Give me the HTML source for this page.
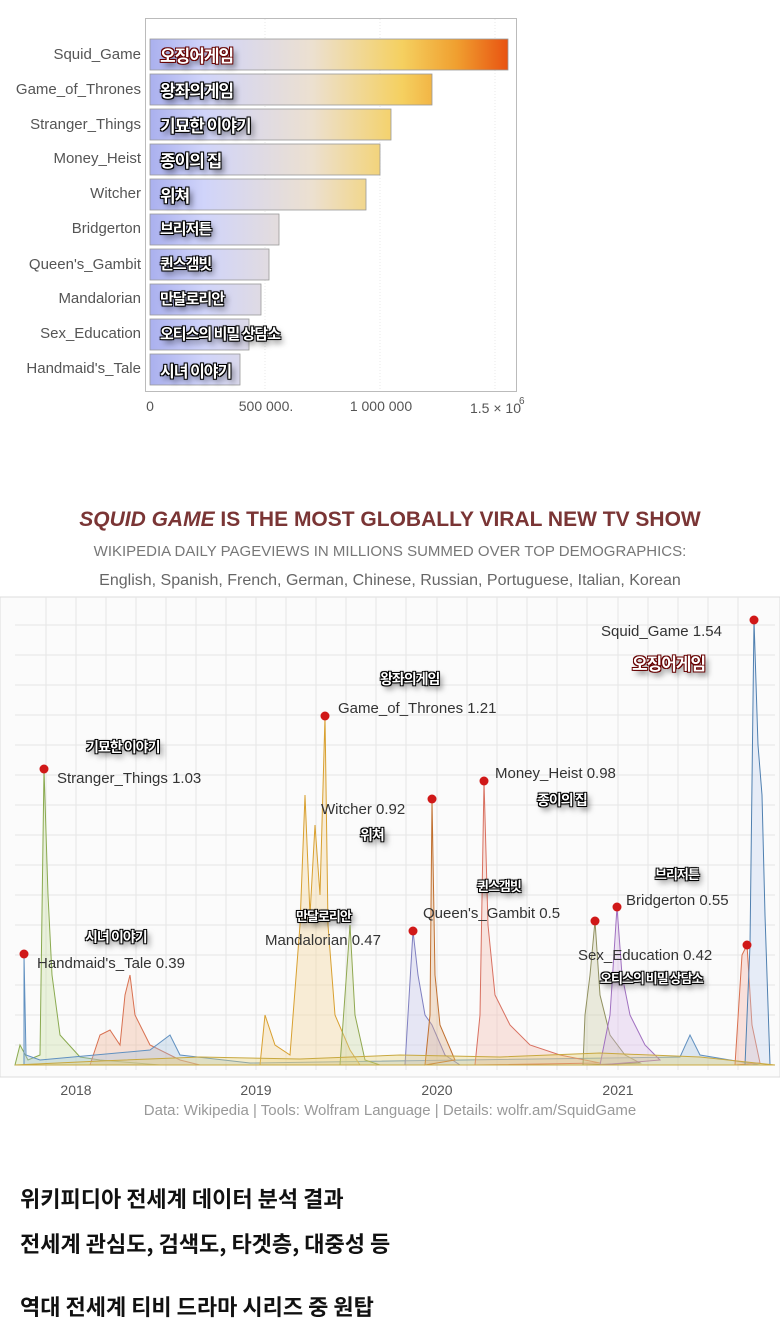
<!DOCTYPE html>
<html><head><meta charset="utf-8"><style>
body{margin:0;background:#fff;width:780px;height:1344px;position:relative;overflow:hidden;font-family:"Liberation Sans","Noto Sans CJK KR",sans-serif}
.a{position:absolute;white-space:nowrap}
.lab{font-size:15px;color:#555;text-align:right;width:141px;left:0}
.k{color:#fff;font-weight:bold;font-family:"Noto Sans CJK KR",sans-serif;text-shadow:-1px -1px 0 #000,1px -1px 0 #000,-1px 1px 0 #000,1px 1px 0 #000,0 0 2px #000,3px 4px 6px rgba(0,0,0,.6);letter-spacing:-1px}
.bk{position:absolute;left:20px;font-size:22px;font-weight:bold;color:#111;font-family:"Noto Sans CJK KR",sans-serif}
</style></head><body>
<svg class="a" style="left:0;top:0" width="780" height="440">
<defs><linearGradient id="g" x1="150" x2="510" gradientUnits="userSpaceOnUse">
<stop offset="0" stop-color="#aab0ee"/><stop offset=".15" stop-color="#d0d4fa"/><stop offset=".45" stop-color="#ece0d0"/><stop offset=".7" stop-color="#f5d060"/><stop offset=".85" stop-color="#f0a030"/><stop offset="1" stop-color="#e85010"/></linearGradient></defs>
<rect x="145.5" y="18.5" width="371" height="373" fill="#fff" stroke="#bbb"/>
<g stroke="#e8e8e8" stroke-dasharray="1,2"><line x1="265" y1="19" x2="265" y2="391"/><line x1="380" y1="19" x2="380" y2="391"/><line x1="495" y1="19" x2="495" y2="391"/></g>
<g fill="url(#g)" stroke="#999" stroke-width="0.8">
<rect x="150" y="39" width="358" height="31"/><rect x="150" y="74" width="282" height="31"/><rect x="150" y="109" width="241" height="31"/><rect x="150" y="144" width="230" height="31"/><rect x="150" y="179" width="216" height="31"/><rect x="150" y="214" width="129" height="31"/><rect x="150" y="249" width="119" height="31"/><rect x="150" y="284" width="111" height="31"/><rect x="150" y="319" width="99" height="31"/><rect x="150" y="354" width="90" height="31"/></g>
<g font-size="14" fill="#555" font-family="Liberation Sans"><text x="150" y="411" text-anchor="middle">0</text><text x="266" y="411" text-anchor="middle">500 000.</text><text x="381" y="411" text-anchor="middle">1 000 000</text><text x="470" y="413">1.5 × 10</text><text x="519" y="404" font-size="10">6</text></g>
</svg>
<div class="a lab" style="top:46px">Squid_Game</div>
<div class="a lab" style="top:81px">Game_of_Thrones</div>
<div class="a lab" style="top:116px">Stranger_Things</div>
<div class="a lab" style="top:150px">Money_Heist</div>
<div class="a lab" style="top:185px">Witcher</div>
<div class="a lab" style="top:220px">Bridgerton</div>
<div class="a lab" style="top:256px">Queen's_Gambit</div>
<div class="a lab" style="top:290px">Mandalorian</div>
<div class="a lab" style="top:325px">Sex_Education</div>
<div class="a lab" style="top:360px">Handmaid's_Tale</div>
<div class="a k" style="left:160px;top:42px;font-size:17px;text-shadow:-1px -1px 0 #600,1px -1px 0 #600,-1px 1px 0 #600,1px 1px 0 #600,3px 4px 6px rgba(0,0,0,.6)">오징어게임</div>
<div class="a k" style="left:160px;top:77px;font-size:17px">왕좌의게임</div>
<div class="a k" style="left:160px;top:112px;font-size:17px">기묘한 이야기</div>
<div class="a k" style="left:160px;top:147px;font-size:17px">종이의 집</div>
<div class="a k" style="left:160px;top:182px;font-size:17px">위쳐</div>
<div class="a k" style="left:160px;top:218px;font-size:15px">브리저튼</div>
<div class="a k" style="left:160px;top:253px;font-size:15px">퀸스갬빗</div>
<div class="a k" style="left:160px;top:288px;font-size:15px">만달로리안</div>
<div class="a k" style="left:160px;top:323px;font-size:15px">오티스의 비밀 상담소</div>
<div class="a k" style="left:160px;top:358px;font-size:16px">시녀 이야기</div>

<div class="a" style="left:0;width:780px;text-align:center;top:508px;font-size:21px;font-weight:bold;color:#7a3535"><i>SQUID GAME</i> IS THE MOST GLOBALLY VIRAL NEW TV SHOW</div>
<div class="a" style="left:0;width:780px;text-align:center;top:543px;font-size:15px;color:#777">WIKIPEDIA DAILY PAGEVIEWS IN MILLIONS SUMMED OVER TOP DEMOGRAPHICS:</div>
<div class="a" style="left:0;width:780px;text-align:center;top:572px;font-size:16px;color:#666">English, Spanish, French, German, Chinese, Russian, Portuguese, Italian, Korean</div>

<svg class="a" style="left:0;top:595px" width="780" height="510">
<rect x="0" y="2" width="780" height="480" fill="#fbfbfb" stroke="#ddd"/>
<g stroke="#e6e6e6">
<path d="M15 30H775M15 60H775M15 90H775M15 120H775M15 150H775M15 180H775M15 210H775M15 240H775M15 270H775M15 300H775M15 330H775M15 360H775M15 390H775M15 420H775M15 450H775"/>
<path d="M46 2V475M76 2V475M106 2V475M136 2V475M166 2V475M196 2V475M226 2V475M256 2V475M286 2V475M316 2V475M346 2V475M376 2V475M406 2V475M437 2V475M467 2V475M497 2V475M527 2V475M557 2V475M587 2V475M618 2V475M648 2V475M678 2V475M708 2V475M738 2V475"/>
</g>
<g stroke-width="1" fill-opacity=".35">
<path d="M15 470L20 450L28 465L40 460L44 174L48 300L52 380L60 440L80 462L100 465L160 470Z" fill="#c8e0a0" stroke="#8aaa50"/>
<path d="M90 470L100 440L110 435L120 450L125 400L130 380L135 420L150 450L180 465L200 470Z" fill="#f0b090" stroke="#d87050"/>
<path d="M24 470L24 359L26 460L40 465L150 455L170 440L180 460L250 468L680 462L690 440L700 460L760 470Z" fill="#a0c0e0" stroke="#6090c0"/>
<path d="M260 470L265 420L275 450L290 460L300 330L305 200L310 320L315 230L320 300L325 121L328 330L335 420L350 455L360 470Z" fill="#f3d090" stroke="#d8a030"/>
<path d="M340 470L345 400L350 330L355 420L365 465L380 470Z" fill="#c8d8a0" stroke="#90a850"/>
<path d="M405 470L413 336L418 380L425 420L432 430L445 460L460 470Z" fill="#c0c0e8" stroke="#8080c0"/>
<path d="M425 470L430 420L432 204L435 380L440 430L455 465Z" fill="#e0b080" stroke="#c07030"/>
<path d="M475 470L480 420L484 186L488 330L495 400L510 430L530 450L560 460L600 468Z" fill="#f4b8a8" stroke="#d87060"/>
<path d="M583 470L585 420L590 380L595 326L600 400L610 440L625 460L640 468Z" fill="#c8c8a0" stroke="#909060"/>
<path d="M600 470L610 420L617 312L622 380L630 420L645 450L660 465Z" fill="#d8b8e8" stroke="#a070c0"/>
<path d="M735 470L742 360L747 350L752 430L760 468Z" fill="#f4b0a0" stroke="#d87050"/>
<path d="M745 470L750 350L754 25L758 150L762 200L765 320L770 470Z" fill="#c0d0f0" stroke="#5080b0"/>
<path d="M15 470L100 466L200 462L300 464L400 460L500 462L600 458L700 462L775 470Z" fill="#e8d070" stroke="#c8a840"/>
</g>
<g fill="#d01818"><circle cx="24" cy="359" r="4.5"/><circle cx="44" cy="174" r="4.5"/><circle cx="325" cy="121" r="4.5"/><circle cx="413" cy="336" r="4.5"/><circle cx="432" cy="204" r="4.5"/><circle cx="484" cy="186" r="4.5"/><circle cx="595" cy="326" r="4.5"/><circle cx="617" cy="312" r="4.5"/><circle cx="747" cy="350" r="4.5"/><circle cx="754" cy="25" r="4.5"/></g>
<g font-size="15" fill="#333" font-family="Liberation Sans">
<text x="601" y="41">Squid_Game 1.54</text><text x="338" y="118">Game_of_Thrones 1.21</text><text x="57" y="188">Stranger_Things 1.03</text><text x="495" y="183">Money_Heist 0.98</text><text x="321" y="219">Witcher 0.92</text><text x="423" y="323">Queen's_Gambit 0.5</text><text x="626" y="310">Bridgerton 0.55</text><text x="265" y="350">Mandalorian 0.47</text><text x="37" y="373">Handmaid's_Tale 0.39</text><text x="578" y="365">Sex_Education 0.42</text></g>
<g font-size="14" fill="#555" font-family="Liberation Sans"><text x="76" y="500" text-anchor="middle">2018</text><text x="256" y="500" text-anchor="middle">2019</text><text x="437" y="500" text-anchor="middle">2020</text><text x="618" y="500" text-anchor="middle">2021</text></g>
</svg>
<div class="a k" style="left:632px;top:650px;font-size:17px;text-shadow:-1px -1px 0 #600,1px -1px 0 #600,-1px 1px 0 #600,1px 1px 0 #600,3px 4px 6px rgba(0,0,0,.6)">오징어게임</div>
<div class="a k" style="left:380px;top:669px;font-size:14px">왕좌의게임</div>
<div class="a k" style="left:86px;top:737px;font-size:14px">기묘한 이야기</div>
<div class="a k" style="left:537px;top:790px;font-size:14px">종이의 집</div>
<div class="a k" style="left:360px;top:825px;font-size:14px">위쳐</div>
<div class="a k" style="left:477px;top:876px;font-size:13px">퀸스갬빗</div>
<div class="a k" style="left:655px;top:864px;font-size:13px">브리저튼</div>
<div class="a k" style="left:296px;top:906px;font-size:13px">만달로리안</div>
<div class="a k" style="left:85px;top:927px;font-size:14px">시녀 이야기</div>
<div class="a k" style="left:600px;top:968px;font-size:13px">오티스의 비밀 상담소</div>
<div class="a" style="left:0;width:780px;text-align:center;top:1102px;font-size:15px;color:#999">Data: Wikipedia | Tools: Wolfram Language | Details: wolfr.am/SquidGame</div>

<div class="bk" style="top:1182px">위키피디아 전세계 데이터 분석 결과</div>
<div class="bk" style="top:1227px">전세계 관심도, 검색도, 타겟층, 대중성 등</div>
<div class="bk" style="top:1290px">역대 전세계 티비 드라마 시리즈 중 원탑</div>
</body></html>
